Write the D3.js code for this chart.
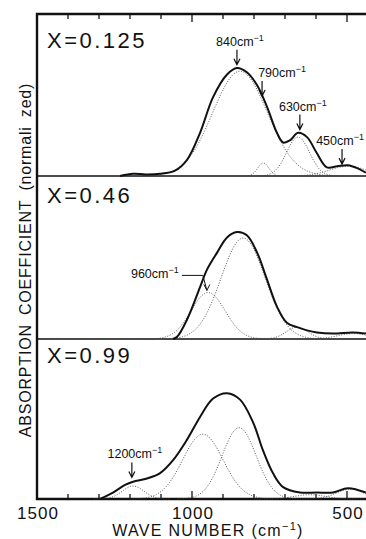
<!DOCTYPE html>
<html>
<head>
<meta charset="utf-8">
<script src="https://cdn.jsdelivr.net/npm/d3@7"></script>
<style>
  body { margin: 0; background: #fff; }
  text { font-family: "Liberation Sans", Arial, sans-serif; fill: #111; }
</style>
</head>
<body>
<div id="viz"></div>
<script>
// Wave number ticks (cm-1)
var WAVE_TICKS = d3.range(1500, 400, -100);
var WAVE_LABELS = [1500, 1000, 500];

// Panel labels (composition)
var PANEL_LABELS = ["X=0.125", "X=0.46", "X=0.99"];

// Measured spectra: [wave number, normalized absorption]
var SPEC_0125 = [[1232,0],[1190,0.02],[1150,0.015],[1103,0.02],[1055,0.05],[1016,0.15],[974,0.40],[932,0.73],
  [887,0.94],[855,1.0],[823,0.96],[790,0.84],[758,0.64],[726,0.40],[706,0.31],[684,0.33],[658,0.40],
  [629,0.36],[597,0.21],[565,0.08],[532,0.09],[497,0.10],[465,0.07],[439,0.03]];
var SPEC_046 = [[1061,0],[1048,0.02],[1016,0.18],[974,0.48],[952,0.64],[919,0.80],[887,0.94],[855,0.99],
  [823,0.96],[790,0.80],[758,0.55],[726,0.30],[694,0.15],[661,0.11],[629,0.08],[597,0.06],[545,0.05],
  [481,0.06],[439,0.05]];
var SPEC_099 = [[1297,0],[1255,0.06],[1216,0.13],[1190,0.16],[1145,0.19],[1103,0.24],[1061,0.36],[1016,0.55],
  [974,0.76],[932,0.93],[887,0.98],[845,0.92],[803,0.71],[771,0.45],[739,0.24],[706,0.11],[652,0.06],
  [597,0.06],[545,0.06],[497,0.10],[439,0.06]];

// Fitted bands: [centre cm-1, height, sigma cm-1]
var BANDS_0125 = [[845,0.97,88],[770,0.12,18],[658,0.36,37],[497,0.09,60]];
var BANDS_046 = [[835,0.935,71],[948,0.43,55],[661,0.11,35],[480,0.05,50]];
var BANDS_099 = [[1190,0.12,35],[965,0.60,65],[848,0.66,55],[620,0.04,50],[490,0.09,45]];

// Peak annotations: [panel, label, wave number, absorption at arrow tip]
var NOTES = [[0,"840",855,1.03],[0,"790",774,0.74],[0,"630",652,0.43],[0,"450",516,0.11],
  [1,"960",952,0.45],[2,"1200",1194,0.20]];

var SPECTRA = [SPEC_0125, SPEC_046, SPEC_099];
var BANDS = [BANDS_0125, BANDS_046, BANDS_099];

var SVG_WIDTH = 366, SVG_HEIGHT = 539;
var LEFT = 37, TOP = 14, BOTTOM = 499;
var BASELINES = [176, 339, 499];
var UNIT = 108; // px per normalized unit

var svg = d3.select("#viz").append("svg")
  .attr("width", SVG_WIDTH)
  .attr("height", SVG_HEIGHT);

var x = d3.scaleLinear().domain([1500, 500]).range([LEFT, 347]);
var RIGHT = x(410);

function yScale(i) {
  return d3.scaleLinear().domain([0, 1]).range([BASELINES[i], BASELINES[i] - UNIT]);
}

// frame
svg.append("path")
  .attr("d", "M" + RIGHT + "," + TOP + "H" + LEFT + "V" + BOTTOM + "H" + RIGHT)
  .attr("fill", "none").attr("stroke", "#111").attr("stroke-width", 2.4);

// panel separators
BASELINES.slice(0, 2).forEach(function(b){
  svg.append("line").attr("x1", LEFT).attr("x2", RIGHT).attr("y1", b).attr("y2", b)
    .attr("stroke", "#111").attr("stroke-width", 1.6);
});

// ticks top and bottom
var tickLen = function(d){ return d % 500 === 0 ? 8 : 5; };
svg.append("g").selectAll("line").data(WAVE_TICKS).enter().append("line")
  .attr("x1", x).attr("x2", x)
  .attr("y1", TOP).attr("y2", function(d){ return TOP + tickLen(d); })
  .attr("stroke", "#111").attr("stroke-width", 1.3);
svg.append("g").selectAll("line").data(WAVE_TICKS).enter().append("line")
  .attr("x1", x).attr("x2", x)
  .attr("y1", BOTTOM).attr("y2", function(d){ return BOTTOM - tickLen(d); })
  .attr("stroke", "#111").attr("stroke-width", 1.3);

svg.append("g").selectAll("text").data(WAVE_LABELS).enter().append("text")
  .attr("x", function(d){ return x(d) + 1; })
  .attr("y", 519)
  .attr("text-anchor", "middle")
  .attr("font-size", 17)
  .attr("letter-spacing", 1)
  .text(function(d){ return d; });

// axis titles
var xt = svg.append("text").attr("x", 208).attr("y", 536)
  .attr("text-anchor", "middle").attr("font-size", 16).attr("letter-spacing", 1.3);
xt.append("tspan").text("WAVE NUMBER (cm");
xt.append("tspan").attr("font-size", 11).attr("dy", -6).text("\u22121");
xt.append("tspan").attr("dy", 6).text(")");

svg.append("text")
  .attr("transform", "translate(31,260) rotate(-90)")
  .attr("text-anchor", "middle")
  .attr("font-size", 16)
  .attr("letter-spacing", 0.8)
  .attr("word-spacing", 4)
  .text("ABSORPTION COEFFICIENT (normali zed)");

// spectra
var line = d3.line()
  .x(function(d){ return x(d[0]); })
  .curve(d3.curveCatmullRom.alpha(0.5));

SPECTRA.forEach(function(spec, i){
  var y = yScale(i);

  // fitted bands, dotted
  BANDS[i].forEach(function(b){
    var pts = d3.range(b[0] + 3.6 * b[2], b[0] - 3.6 * b[2], -3).map(function(w){
      return [w, b[1] * Math.exp(-Math.pow(w - b[0], 2) / (2 * b[2] * b[2]))];
    }).filter(function(p){ return p[0] > 405; });
    svg.append("path")
      .attr("d", line.y(function(d){ return y(d[1]); })(pts))
      .attr("fill", "none")
      .attr("stroke", "#444")
      .attr("stroke-width", 0.9)
      .attr("stroke-dasharray", "1,1.6");
  });

  svg.append("path")
    .attr("d", line.y(function(d){ return y(d[1]); })(spec))
    .attr("fill", "none")
    .attr("stroke", "#111")
    .attr("stroke-width", 2)
    .attr("stroke-linejoin", "round");

  svg.append("text")
    .attr("x", LEFT + 10)
    .attr("y", [48, 203, 363][i])
    .attr("font-size", 22)
    .attr("letter-spacing", 2.5)
    .text(PANEL_LABELS[i]);
});

// annotations
function arrow(x0, y0, x1, y1) {
  return "M" + x0 + "," + y0 + "L" + x1 + "," + y1 +
    "M" + (x1 - 3) + "," + (y1 - 6) + "L" + x1 + "," + y1 + "L" + (x1 + 3) + "," + (y1 - 6);
}
function label(tx, ty, txt, anchor) {
  var t = svg.append("text").attr("x", tx).attr("y", ty)
    .attr("text-anchor", anchor || "middle").attr("font-size", 12.5);
  t.append("tspan").text(txt + "cm");
  t.append("tspan").attr("font-size", 9).attr("dy", -5).text("\u22121");
}
NOTES.forEach(function(n){
  var y = yScale(n[0]);
  var ax = x(n[2]), ay = y(n[3]);
  if (n[1] === "960") {
    label(ax - 52, ay - 12, n[1]);
    svg.append("path")
      .attr("d", "M" + (ax - 25) + "," + (ay - 15) + "H" + (ax - 4) + arrow(ax - 4, ay - 15, ax, ay).replace(/^M[^L]*/, ""))
      .attr("fill", "none").attr("stroke", "#111").attr("stroke-width", 1);
    return;
  }
  var dx = n[1] === "790" ? 20 : (n[1] === "450" ? -2 : 3);
  label(ax + dx, ay - 19, n[1]);
  svg.append("path")
    .attr("d", arrow(ax, ay - 15, ax, ay))
    .attr("fill", "none").attr("stroke", "#111").attr("stroke-width", 1.2);
});
</script>
</body>
</html>
